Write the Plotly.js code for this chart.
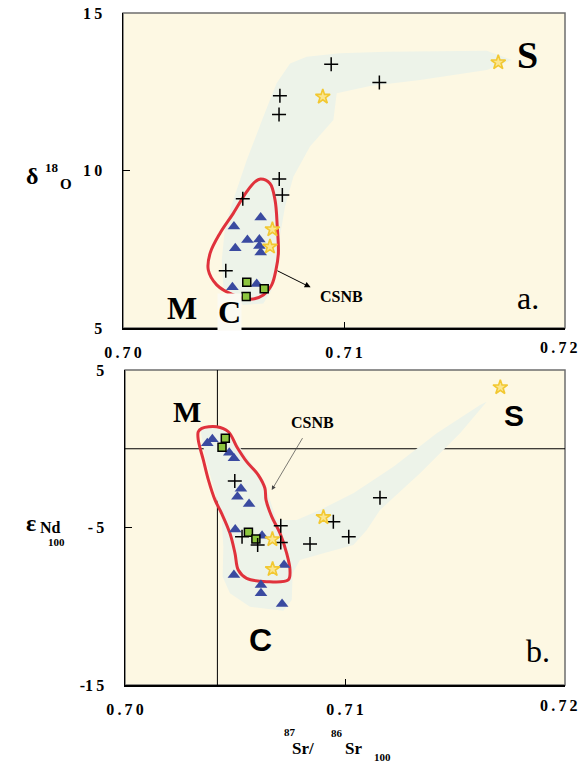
<!DOCTYPE html>
<html><head><meta charset="utf-8">
<script src="https://cdn.plot.ly/plotly-3.0.1.min.js"></script>
<style>html,body{margin:0;padding:0;background:#fff}#plot{width:581px;height:765px}</style>
</head><body><div id="plot"></div>
<script>
// ---------- Panel a: 87Sr/86Sr vs d18O ----------
const a_cross_x = [0.70942, 0.70710, 0.70706, 0.70707, 0.70721, 0.70542, 0.70465, 0.71160];
const a_cross_y = [13.37, 12.37, 11.78, 9.73, 9.22, 9.10, 6.82, 12.79];
const a_star_x = [0.70904, 0.70676, 0.70665, 0.71698];
const a_star_y = [12.34, 8.13, 7.58, 13.43];
const a_tri_x = [0.70623, 0.70502, 0.70563, 0.70617, 0.70617, 0.70623, 0.70508, 0.70495, 0.70605];
const a_tri_y = [8.51, 8.22, 7.79, 7.81, 7.60, 7.40, 7.53, 6.29, 6.40];
const a_sq_x = [0.70560, 0.70639, 0.70557];
const a_sq_y = [6.45, 6.25, 6.00];
const a_band_x = [0.70544,0.70454,0.70447,0.70462,0.70499,0.70560,0.70635,0.70695,0.70756,0.70831,0.70982,0.71193,0.71646,0.71759,0.71646,0.71344,0.71118,0.70967,0.70952,0.70846,0.70771,0.70733,0.70707,0.70695,0.70673,0.70635,0.70544];
const a_band_y = [5.73,6.31,7.16,8.22,9.06,10.33,11.71,12.77,13.40,13.61,13.72,13.77,13.80,13.51,13.19,12.87,12.68,12.45,11.60,10.76,9.80,8.85,7.79,6.95,6.21,5.78,5.73];
const a_csnb_x = [0.70623,0.70665,0.70688,0.70698,0.70703,0.70692,0.70673,0.70635,0.70575,0.70499,0.70424,0.70386,0.70394,0.70439,0.70499,0.70560,0.70597,0.70623];
const a_csnb_y = [9.73,9.59,9.06,8.22,7.37,6.84,6.37,6.05,5.91,6.05,6.37,6.84,7.37,8.01,8.64,9.33,9.64,9.73];

// ---------- Panel b: 87Sr/86Sr vs eNd ----------
const b_tri_x = [0.70374,0.70397,0.70474,0.70495,0.70527,0.70511,0.70564,0.70501,0.70623,0.70723,0.70495,0.70618,0.70618,0.70714];
const b_tri_y = [0.35,0.60,-0.25,-0.61,-2.54,-3.04,-3.51,-5.12,-5.52,-7.38,-8.02,-8.65,-9.18,-9.86];
const b_sq_x = [0.70456,0.70441,0.70561,0.70595];
const b_sq_y = [0.66,0.09,-5.30,-5.73];
const b_cross_x = [0.70499,0.70708,0.70532,0.70603,0.70708,0.70841,0.70947,0.71017,0.71159];
const b_cross_y = [-2.05,-4.89,-5.58,-6.11,-5.96,-6.05,-4.63,-5.58,-3.11];
const b_star_x = [0.70902,0.70670,0.70671,0.71706];
const b_star_y = [-4.35,-5.75,-7.65,3.90];
const b_band_x = [0.70341,0.70364,0.70402,0.70439,0.70447,0.70444,0.70477,0.70568,0.70720,0.70758,0.70762,0.70795,0.70902,0.71038,0.71099,0.71159,0.71341,0.71523,0.71644,0.71614,0.71417,0.71220,0.71038,0.70886,0.70780,0.70689,0.70659,0.70629,0.70553,0.70477,0.70417,0.70341];
const b_band_y = [1.40,-0.50,-2.41,-4.31,-6.22,-8.12,-9.18,-10.03,-10.28,-9.60,-7.91,-7.06,-6.64,-6.11,-5.16,-3.89,-1.56,0.98,2.99,2.78,0.98,-1.14,-2.83,-3.89,-4.52,-4.52,-3.25,-1.98,-0.50,0.98,1.40,1.40];
const b_csnb_x = [0.70349,0.70417,0.70470,0.70508,0.70553,0.70606,0.70636,0.70641,0.70667,0.70705,0.70735,0.70750,0.70742,0.70644,0.70553,0.70515,0.70500,0.70477,0.70439,0.70409,0.70379,0.70356,0.70333,0.70333,0.70349];
const b_csnb_y = [1.30,1.40,1.08,0.13,-0.82,-1.67,-2.51,-3.25,-4.31,-5.37,-6.64,-7.70,-8.33,-8.44,-8.23,-7.70,-6.64,-5.37,-4.10,-3.25,-1.98,-0.71,0.56,1.08,1.30];
const mantleSr = 0.7042;
const chondriteNd = 0;

// ---------- axis ticks ----------
const xTickVals = [0.70, 0.71, 0.72];
const xTickText = ['0\u2009.\u20097\u20090', '0\u2009.\u20097\u20091', ''];
const xLastTick = '0\u2009.\u20097\u20092';
const aTickVals = [5, 10, 15];
const aTickText = ['5', '1\u20090', '1\u20095'];
const bTickVals = [-15, -5, 5];
const bTickText = ['-1\u20095', '-\u20095', '5'];

const W = 581, H = 765;
const px = v => v / W, py = v => 1 - v / H;

const cBand = '#edf3e9', cRed = '#e0323c', cTri = '#3a4aa0', cSq = '#8dc63f';
const starM = {symbol: 'star', size: 11, color: '#fbe690', line: {color: '#f2c831', width: 1.6}};
const triM = {symbol: 'triangle-up', size: 11, color: cTri};
const sqM = {symbol: 'square', size: 8, color: cSq, line: {color: '#000', width: 1.5}};
const crM = {symbol: 'cross-thin-open', size: 10, color: '#000', line: {color: '#000', width: 1.5}};

function pt(x, y, m, ax) { return {type: 'scatter', mode: 'markers', x: x, y: y, marker: m, xaxis: ax[0], yaxis: ax[1], hoverinfo: 'skip'}; }
function poly(x, y, ax) { return {type: 'scatter', mode: 'none', x: x, y: y, fill: 'toself', fillcolor: cBand, xaxis: ax[0], yaxis: ax[1], hoverinfo: 'skip'}; }
function loop(x, y, ax) { return {type: 'scatter', mode: 'lines', x: x, y: y, line: {color: cRed, width: 3, shape: 'spline', smoothing: 1}, xaxis: ax[0], yaxis: ax[1], hoverinfo: 'skip'}; }

const A = ['x', 'y'], B = ['x2', 'y2'];
const data = [
  poly(a_band_x, a_band_y, A), loop(a_csnb_x, a_csnb_y, A),
  pt(a_tri_x, a_tri_y, triM, A), pt(a_sq_x, a_sq_y, sqM, A), pt(a_cross_x, a_cross_y, crM, A), pt(a_star_x, a_star_y, starM, A),
  poly(b_band_x, b_band_y, B), loop(b_csnb_x, b_csnb_y, B),
  pt(b_tri_x, b_tri_y, triM, B), pt(b_sq_x, b_sq_y, sqM, B), pt(b_cross_x, b_cross_y, crM, B), pt(b_star_x, b_star_y, starM, B)
];

const tickFont = {family: 'Liberation Serif', size: 16, color: '#000', weight: 'bold'};
function xax(dom, anchor) {
  return {domain: dom, anchor: anchor, range: [0.70, 0.72], tickvals: xTickVals, ticktext: xTickText,
    ticks: 'inside', ticklen: 6, tickcolor: '#000', showgrid: false, zeroline: false,
    showline: true, linecolor: '#000', linewidth: 1.5, tickfont: tickFont, ticklabelstandoff: 9};
}
function yax(dom, anchor, r, tv, tt) {
  return {domain: dom, anchor: anchor, range: r, tickvals: tv, ticktext: tt,
    ticks: 'inside', ticklen: 7, tickcolor: '#000', showgrid: false, zeroline: false,
    showline: true, linecolor: '#000', linewidth: 1.5, tickfont: tickFont, ticklabelstandoff: 16};
}

const serifB = (s) => ({family: 'Liberation Serif', size: s, color: '#000', weight: 'bold'});
const sansB = (s) => ({family: 'Liberation Sans', size: s, color: '#000', weight: 'bold'});
function lab(text, x, y, font, extra) {
  return Object.assign({text: text, xref: 'paper', yref: 'paper', x: px(x), y: py(y), xanchor: 'center', yanchor: 'middle', showarrow: false, font: font}, extra || {});
}

const annotations = [
  lab('M', 182, 308, serifB(32)),
  lab('C', 229, 312, serifB(32), {bgcolor: '#fbfaf2', borderpad: 0}),
  lab('S', 527, 55, serifB(38)),
  lab('a.', 528, 298, {family: 'Liberation Serif', size: 32, color: '#000'}),
  lab('CSNB', 341, 297, serifB(16)),
  {xref: 'x', yref: 'y', axref: 'x', ayref: 'y', x: 0.70849, y: 6.29, ax: 0.70692, ay: 6.84, text: '', showarrow: true, arrowhead: 2, arrowsize: 1.2, arrowwidth: 1, arrowcolor: '#000'},
  lab('M', 187, 411, serifB(30)),
  lab('CSNB', 312, 422, serifB(16)),
  lab('C', 260, 640, sansB(32)),
  lab('S', 514, 416, sansB(30)),
  lab('b.', 538, 651, {family: 'Liberation Serif', size: 32, color: '#000'}),
  {xref: 'x2', yref: 'y2', axref: 'x2', ayref: 'y2', x: 0.70667, y: -2.62, ax: 0.70811, ay: 0.77, text: '', showarrow: true, arrowhead: 2, arrowsize: 1.2, arrowwidth: 0.7, arrowcolor: '#444'},
  // last x tick labels (at the right edge)
  lab(xLastTick, 580, 348, tickFont, {xanchor: 'right'}),
  lab(xLastTick, 580, 705, tickFont, {xanchor: 'right'}),
  // y titles
  lab('δ', 32, 176, serifB(24)),
  lab('18', 52, 167, serifB(13)),
  lab('O', 66, 184, serifB(15)),
  lab('ε', 31, 523, serifB(24)),
  lab('Nd', 50, 527, serifB(16)),
  lab('100', 56, 542, serifB(11)),
  // x title
  lab('87', 290, 732, serifB(11)),
  lab('Sr/', 303, 748, serifB(17)),
  lab('86', 337, 733, serifB(11)),
  lab('Sr', 353, 748, serifB(17)),
  lab('100', 382, 757, serifB(11))
];

const shapes = [
  {type: 'rect', xref: 'x domain', yref: 'y domain', x0: 0, x1: 1, y0: 0, y1: 1, line: {color: '#6e6e6e', width: 1.5}, layer: 'below'},
  {type: 'rect', xref: 'x2 domain', yref: 'y2 domain', x0: 0, x1: 1, y0: 0, y1: 1, line: {color: '#6e6e6e', width: 1.5}, layer: 'below'},
  {type: 'line', xref: 'x2', yref: 'y2 domain', x0: mantleSr, x1: mantleSr, y0: 0, y1: 1, line: {color: '#000', width: 1}, layer: 'below'},
  {type: 'line', xref: 'x2 domain', yref: 'y2', x0: 0, x1: 1, y0: chondriteNd, y1: chondriteNd, line: {color: '#000', width: 1}, layer: 'below'}
];

const layout = {
  width: W, height: H, margin: {l: 0, r: 0, t: 0, b: 0},
  paper_bgcolor: '#ffffff', plot_bgcolor: '#fdf8e3', showlegend: false,
  xaxis: xax([px(123), px(565)], 'y'),
  yaxis: yax([py(328), py(13)], 'x', [5, 15], aTickVals, aTickText),
  xaxis2: xax([px(125), px(565)], 'y2'),
  yaxis2: yax([py(685), py(370)], 'x2', [-15, 5], bTickVals, bTickText),
  annotations: annotations, shapes: shapes
};

Plotly.newPlot('plot', data, layout, {displayModeBar: false, staticPlot: true});
</script></body></html>
